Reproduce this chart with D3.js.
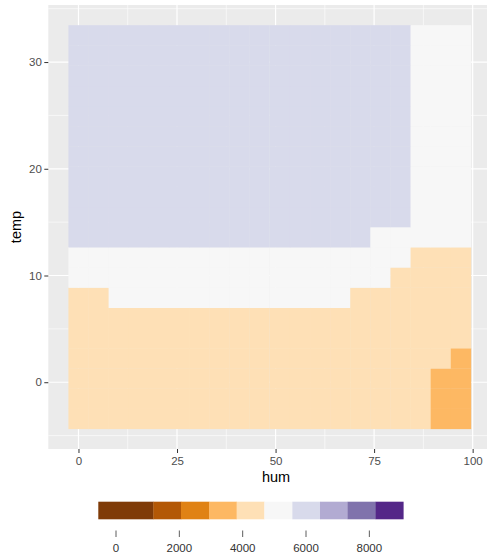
<!DOCTYPE html>
<html>
<head>
<meta charset="utf-8">
<script src="https://cdn.jsdelivr.net/npm/d3@7"></script>
<style>
  html, body { margin: 0; padding: 0; background: #ffffff; }
  svg { display: block; font-family: "Liberation Sans", Arial, Helvetica, sans-serif; }
</style>
</head>
<body>
<svg id="chart" width="487" height="555"></svg>
<script>
// ---- data ----
const humGrid = [0, 5.1, 10.2, 15.3, 20.4, 25.5, 30.6, 35.7, 40.8, 45.9,
                 51.1, 56.2, 61.3, 66.4, 71.5, 76.6, 81.7, 86.8, 91.9, 97.0];
const tempGrid = [-3.42, -1.53, 0.36, 2.25, 4.14, 6.03, 7.93, 9.82, 11.71, 13.60,
                  15.49, 17.38, 19.27, 21.16, 23.05, 24.94, 26.83, 28.72, 30.62, 32.51];
// predicted count, one row per temp value (bottom to top), one column per hum value
const predRows = [
  [4105,4098,4090,4088,4085,4080,4078,4075,4072,4070,4066,4060,4055,4050,4040,4020,3990,3920,3640,3520],
  [4125,4118,4110,4108,4105,4100,4098,4095,4092,4090,4086,4080,4075,4070,4060,4040,4010,3945,3665,3545],
  [4180,4172,4165,4160,4158,4152,4150,4148,4145,4142,4138,4132,4128,4122,4112,4092,4062,3995,3720,3600],
  [4290,4282,4275,4270,4268,4262,4260,4258,4255,4252,4248,4242,4238,4232,4222,4202,4172,4105,3850,3730],
  [4420,4410,4402,4398,4395,4390,4388,4385,4382,4380,4376,4370,4365,4360,4350,4330,4300,4232,3980,3870],
  [4560,4548,4540,4535,4532,4528,4525,4522,4520,4518,4514,4508,4502,4496,4486,4466,4436,4368,4120,4010],
  [4660,4672,4702,4698,4695,4690,4688,4685,4702,4700,4696,4692,4690,4688,4655,4640,4600,4520,4260,4150],
  [4820,4830,4860,4858,4855,4850,4848,4845,4842,4840,4836,4830,4825,4818,4780,4720,4670,4600,4380,4280],
  [5020,5030,5060,5058,5055,5050,5048,5045,5042,5040,5036,5030,5025,5018,4980,4920,4860,4660,4470,4380],
  [5640,5650,5690,5688,5685,5680,5678,5675,5672,5670,5666,5660,5655,5648,5600,5540,5480,5200,4960,4860],
  [5820,5830,5870,5868,5865,5860,5858,5855,5852,5850,5846,5840,5835,5828,5780,5720,5650,5380,5120,5010],
  [5900,5910,5950,5948,5945,5940,5938,5935,5932,5930,5926,5920,5915,5908,5860,5800,5730,5450,5190,5080],
  [5960,5970,6010,6008,6005,6000,5998,5995,5992,5990,5986,5980,5975,5968,5920,5860,5790,5500,5240,5130],
  [6000,6010,6050,6048,6045,6040,6038,6035,6032,6030,6026,6020,6015,6008,5960,5900,5830,5530,5270,5160],
  [6020,6030,6070,6068,6065,6060,6058,6055,6052,6050,6046,6040,6035,6028,5980,5920,5850,5550,5290,5180],
  [6030,6040,6080,6078,6075,6070,6068,6065,6062,6060,6056,6050,6045,6038,5990,5930,5860,5560,5300,5190],
  [6010,6020,6060,6058,6055,6050,6048,6045,6042,6040,6036,6030,6025,6018,5970,5910,5840,5540,5280,5170],
  [5980,5990,6030,6028,6025,6020,6018,6015,6012,6010,6006,6000,5995,5988,5940,5880,5810,5510,5250,5140],
  [5940,5950,5990,5988,5985,5980,5978,5975,5972,5970,5966,5960,5955,5948,5900,5840,5770,5470,5210,5100],
  [5900,5910,5950,5948,5945,5940,5938,5935,5932,5930,5926,5920,5915,5908,5860,5800,5730,5430,5170,5060]
];
const xTicks = [0, 25, 50, 75, 100];
const xMinor = [12.5, 37.5, 62.5, 87.5];
const yTicks = [0, 10, 20, 30];
const yMinor = [-5, 5, 15, 25, 35];
const legendDomain = [-559, 9072];
const binBreaks = [1179, 2053, 2937, 3810, 4684, 5568, 6442, 7316, 8200];
const binColors = ["#7f3b08", "#b35806", "#e08214", "#fdb863", "#fee0b6",
                   "#f7f7f7", "#d8daeb", "#b2abd2", "#8073ac", "#542788"];
const legendTicks = [0, 2000, 4000, 6000, 8000];

// ---- layout ----
const svg = d3.select("#chart");
const panel = { left: 48.3, right: 491, top: 5, bottom: 449 };

const hStep = humGrid[1] - humGrid[0];
const tStep = tempGrid[1] - tempGrid[0];
const hLo = d3.min(humGrid) - hStep / 2, hHi = d3.max(humGrid) + hStep / 2;
const tLo = d3.min(tempGrid) - tStep / 2, tHi = d3.max(tempGrid) + tStep / 2;
const hPad = (hHi - hLo) * 0.05, tPad = (tHi - tLo) * 0.05;

const x = d3.scaleLinear().domain([hLo - hPad, hHi + hPad]).range([panel.left, panel.right]);
const y = d3.scaleLinear().domain([tLo - tPad, tHi + tPad]).range([panel.bottom, panel.top]);
const color = d3.scaleThreshold().domain(binBreaks).range(binColors);

// panel background
svg.append("rect")
  .attr("x", panel.left).attr("y", panel.top)
  .attr("width", panel.right - panel.left).attr("height", panel.bottom - panel.top)
  .attr("fill", "#ebebeb");

const grid = svg.append("g");
xMinor.forEach(v => grid.append("line")
  .attr("x1", x(v)).attr("x2", x(v)).attr("y1", panel.top).attr("y2", panel.bottom)
  .attr("stroke", "#ffffff").attr("stroke-width", 0.6));
yMinor.forEach(v => grid.append("line")
  .attr("y1", y(v)).attr("y2", y(v)).attr("x1", panel.left).attr("x2", panel.right)
  .attr("stroke", "#ffffff").attr("stroke-width", 0.6));
xTicks.forEach(v => grid.append("line")
  .attr("x1", x(v)).attr("x2", x(v)).attr("y1", panel.top).attr("y2", panel.bottom)
  .attr("stroke", "#ffffff").attr("stroke-width", 1.2));
yTicks.forEach(v => grid.append("line")
  .attr("y1", y(v)).attr("y2", y(v)).attr("x1", panel.left).attr("x2", panel.right)
  .attr("stroke", "#ffffff").attr("stroke-width", 1.2));

// tiles
const cells = [];
predRows.forEach((row, i) => row.forEach((v, j) => cells.push({ hum: humGrid[j], temp: tempGrid[i], v })));
svg.append("g").selectAll("rect").data(cells).join("rect")
  .attr("x", d => x(d.hum - hStep / 2))
  .attr("y", d => y(d.temp + tStep / 2))
  .attr("width", d => x(d.hum + hStep / 2) - x(d.hum - hStep / 2) + 0.3)
  .attr("height", d => y(d.temp - tStep / 2) - y(d.temp + tStep / 2) + 0.3)
  .attr("fill", d => color(d.v));

// axes
const xAxis = svg.append("g").attr("transform", `translate(0,${panel.bottom})`)
  .call(d3.axisBottom(x).tickValues(xTicks).tickSize(4).tickPadding(4).tickFormat(d3.format("d")));
const yAxis = svg.append("g").attr("transform", `translate(${panel.left},0)`)
  .call(d3.axisLeft(y).tickValues(yTicks).tickSize(4).tickPadding(2.5).tickFormat(d3.format("d")));
[xAxis, yAxis].forEach(a => {
  a.select(".domain").remove();
  a.selectAll(".tick line").attr("stroke", "#333333").attr("stroke-width", 1);
  a.selectAll(".tick text").attr("fill", "#4d4d4d").style("font-size", "11.5px")
    .style("font-family", "'Liberation Sans', Arial, sans-serif");
});

svg.append("text").attr("x", 276).attr("y", 481.5).attr("text-anchor", "middle")
  .attr("fill", "#000").style("font-size", "14.5px").text("hum");
svg.append("text").attr("transform", `translate(21,${(panel.top + panel.bottom) / 2}) rotate(-90)`)
  .attr("text-anchor", "middle").attr("fill", "#000").style("font-size", "14.5px").text("temp");

// legend colour bar
const lx = d3.scaleLinear().domain(legendDomain).range([98.3, 403.3]);
const legTop = 501.7, legH = 17.6;
const segs = binColors.map((c, i) => ({
  c,
  a: i === 0 ? legendDomain[0] : binBreaks[i - 1],
  b: i === binColors.length - 1 ? legendDomain[1] : binBreaks[i]
}));
svg.append("g").selectAll("rect").data(segs).join("rect")
  .attr("x", d => lx(d.a)).attr("y", legTop)
  .attr("width", d => lx(d.b) - lx(d.a) + 0.3).attr("height", legH)
  .attr("fill", d => d.c);

const lg = svg.append("g");
legendTicks.forEach(v => {
  lg.append("line").attr("x1", lx(v)).attr("x2", lx(v)).attr("y1", 530.5).attr("y2", 537)
    .attr("stroke", "#333333").attr("stroke-width", 0.8);
  lg.append("text").attr("x", lx(v)).attr("y", 551.5).attr("text-anchor", "middle")
    .attr("fill", "#333333").style("font-size", "11.5px").text(v);
});
</script>
</body>
</html>
